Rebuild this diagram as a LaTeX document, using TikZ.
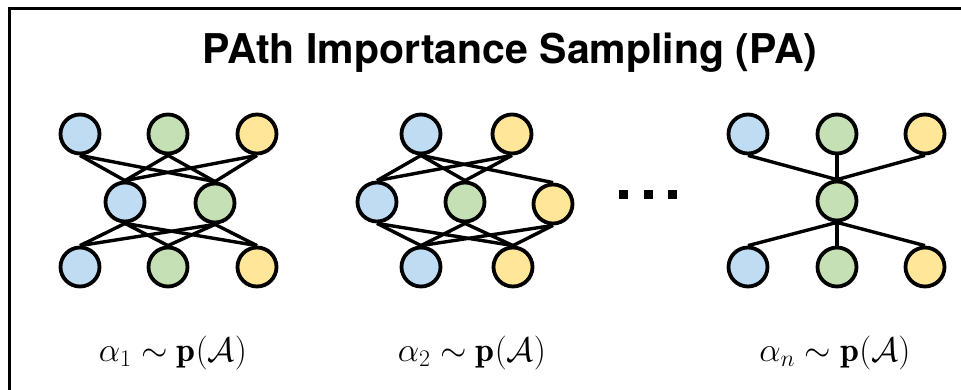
\RequirePackage{fix-cm}
\documentclass[tikz,border=0pt]{standalone}
\usepackage{amsmath,amssymb}
\usepackage{fontspec}
\newfontfamily\headfont{TeX Gyre Heros}
\usetikzlibrary{positioning,backgrounds}
\definecolor{nblue}{HTML}{BFDCF2}
\definecolor{ngreen}{HTML}{C5E0B4}
\definecolor{nyellow}{HTML}{FFE699}

\begin{document}
\begin{tikzpicture}[x=1pt, y=-1pt,
    unit/.style={circle, draw=black, line width=3.8pt, minimum size=39pt, inner sep=0pt},
    ub/.style={unit, fill=nblue}, ug/.style={unit, fill=ngreen}, uy/.style={unit, fill=nyellow},
    link/.style={line width=3.4pt},
    dotbox/.style={fill=black, minimum size=9pt, inner sep=0pt},
    lbl/.style={font=\fontsize{34}{40}\selectfont, anchor=base}]
    \useasboundingbox (0,0) rectangle (961,389);
    \draw[line width=3.4pt] (9.5,400) -- (9.5,8.5) -- (975,8.5);
    \node[font=\headfont\bfseries\fontsize{41}{48}\selectfont, anchor=base] (title) at (510,63) {PAth Importance Sampling (PA)};
    % first sampled path
    \node[ub] (a1) at (80,134) {}; \node[ug] (a2) at (168,134) {}; \node[uy] (a3) at (257,134) {};
    \node[ub] (a4) at (125,202) {}; \node[ug] (a5) at (215,203) {};
    \node[ub] (a6) at (80,267) {}; \node[ug] (a7) at (168,267) {}; \node[uy] (a8) at (257,267) {};
    % second sampled path
    \node[ub] (b1) at (421,134) {}; \node[uy] (b2) at (512,134) {};
    \node[ub] (b3) at (377,202) {}; \node[ug] (b4) at (465,202) {}; \node[uy] (b5) at (553,204) {};
    \node[ub] (b6) at (421,267) {}; \node[uy] (b7) at (513,267) {};
    % last sampled path
    \node[ub] (c1) at (748,134) {}; \node[ug] (c2) at (837,134) {}; \node[uy] (c3) at (925,134) {};
    \node[ug] (c4) at (837,201) {};
    \node[ub] (c5) at (748,267) {}; \node[ug] (c6) at (837,267) {}; \node[uy] (c7) at (925,267) {};
    \begin{scope}[on background layer]
        \foreach \u in {a1,a2,a3} \foreach \v in {a4,a5} \draw[link] (\u.south) -- (\v.north);
        \foreach \u in {a4,a5} \foreach \v in {a6,a7,a8} \draw[link] (\u.south) -- (\v.north);
        \foreach \v in {b3,b4,b5} \draw[link] (b1.south) -- (\v.north);
        \foreach \v in {b3,b4} \draw[link] (b2.south) -- (\v.north);
        \foreach \u in {b3,b4,b5} \foreach \v in {b6,b7} \draw[link] (\u.south) -- (\v.north);
        \foreach \u in {c1,c2,c3} \draw[link] (\u.south) -- (c4.north);
        \foreach \v in {c5,c6,c7} \draw[link] (c4.south) -- (\v.north);
    \end{scope}
    \node[dotbox] (d1) at (623.5,194.5) {};
    \node[dotbox] (d2) at (648,194.5) {};
    \node[dotbox] (d3) at (672.5,194.5) {};
    \node[lbl] (la) at (173,361) {$\alpha_1 \sim \mathbf{p}(\mathcal{A})$};
    \node[lbl] (lb) at (472,361) {$\alpha_2 \sim \mathbf{p}(\mathcal{A})$};
    \node[lbl] (lc) at (835,361) {$\alpha_n \sim \mathbf{p}(\mathcal{A})$};
\end{tikzpicture}
\end{document}
